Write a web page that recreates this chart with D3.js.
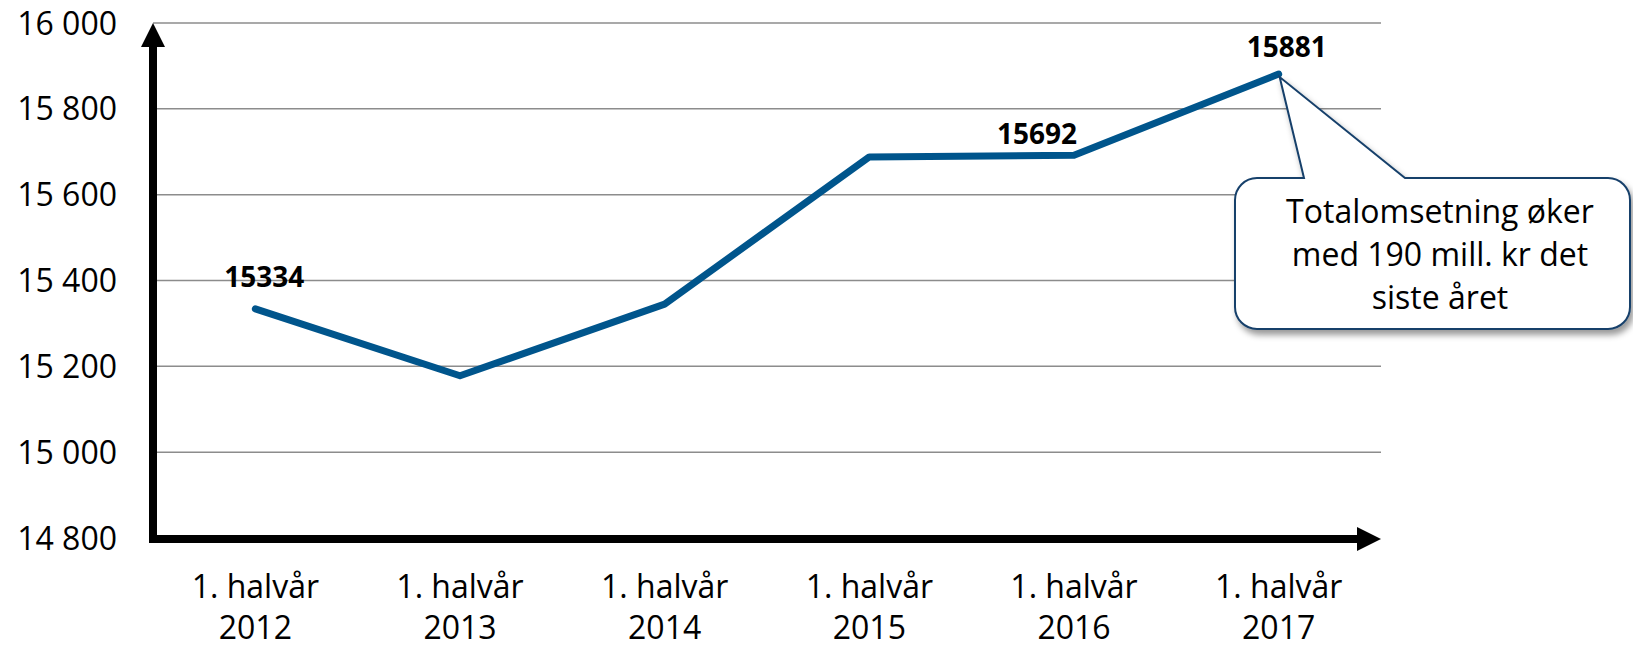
<!DOCTYPE html>
<html>
<head>
<meta charset="utf-8">
<script src="https://cdn.jsdelivr.net/npm/d3@7"></script>
<style>
  body { margin: 0; background: #fff; }
  text { font-family: "Open Sans", sans-serif; fill: #000; }
</style>
</head>
<body>
<div id="chart"></div>
<script>
// data
var categories = ["1. halvår 2012", "1. halvår 2013", "1. halvår 2014", "1. halvår 2015", "1. halvår 2016", "1. halvår 2017"];
var values = [15334, 15178, 15345, 15688, 15692, 15881];
var yTicks = [14800, 15000, 15200, 15400, 15600, 15800, 16000];
var labelled = [0, 4, 5];   // points that carry a value label
var calloutLines = ["Totalomsetning øker", "med 190 mill. kr det", "siste året"];

function init(){
  var w = 1633, h = 648;
  var left = 153, right = 1381, top = 23, bottom = 538;

  var svg = d3.select("#chart")
    .append("svg")
    .attr("width", w)
    .attr("height", h);

  var defs = svg.append("defs");
  var shadow = defs.append("filter").attr("id", "shadow")
    .attr("x", "-10%").attr("y", "-10%").attr("width", "130%").attr("height", "140%");
  shadow.append("feDropShadow")
    .attr("dx", 3).attr("dy", 5).attr("stdDeviation", 3)
    .attr("flood-color", "#000").attr("flood-opacity", 0.4);

  var xScale = d3.scaleBand()
    .domain(categories)
    .range([left, right]);
  var xMid = function(d) { return xScale(d) + xScale.bandwidth() / 2; };

  var yScale = d3.scaleLinear()
    .domain([14800, 16000])
    .range([bottom, top]);

  // gridlines
  svg.append("g")
    .selectAll("line")
    .data(yTicks.slice(1))
    .enter()
    .append("line")
    .attr("x1", left)
    .attr("x2", right)
    .attr("y1", function(d) { return yScale(d); })
    .attr("y2", function(d) { return yScale(d); })
    .attr("stroke", "#8c8c8c")
    .attr("stroke-width", 1.5);

  // y tick labels
  var fmt = function(d) { return d3.format(",")(d).replace(",", " "); };
  svg.append("g")
    .selectAll("text")
    .data(yTicks)
    .enter()
    .append("text")
    .attr("x", 117)
    .attr("y", function(d) { return yScale(d); })
    .attr("dy", "0.36em")
    .attr("text-anchor", "end")
    .style("font-size", "32px")
    .text(fmt);

  // x labels, two lines each
  var xl = svg.append("g")
    .selectAll("text")
    .data(categories)
    .enter()
    .append("text")
    .attr("text-anchor", "middle")
    .style("font-size", "32px");
  xl.append("tspan")
    .attr("x", xMid)
    .attr("y", bottom + 60)
    .text(function(d) { return d.split(" ").slice(0, 2).join(" "); });
  xl.append("tspan")
    .attr("x", xMid)
    .attr("y", bottom + 101)
    .text(function(d) { return d.split(" ")[2]; });

  // axes with arrow heads
  svg.append("line")
    .attr("x1", left).attr("y1", bottom + 4)
    .attr("x2", left).attr("y2", top + 22)
    .attr("stroke", "#000").attr("stroke-width", 8);
  svg.append("path")
    .attr("d", "M" + left + "," + top + "L" + (left - 12) + "," + (top + 24) + "L" + (left + 12) + "," + (top + 24) + "Z")
    .attr("fill", "#000");
  svg.append("line")
    .attr("x1", left - 4).attr("y1", bottom + 1)
    .attr("x2", right - 22).attr("y2", bottom + 1)
    .attr("stroke", "#000").attr("stroke-width", 8);
  svg.append("path")
    .attr("d", "M" + right + "," + (bottom + 1) + "L" + (right - 24) + "," + (bottom - 11) + "L" + (right - 24) + "," + (bottom + 13) + "Z")
    .attr("fill", "#000");

  // the line
  var line = d3.line()
    .x(function(d, i) { return xMid(categories[i]); })
    .y(function(d) { return yScale(d); });
  svg.append("path")
    .datum(values)
    .attr("fill", "none")
    .attr("stroke", "#00558c")
    .attr("stroke-width", 7)
    .attr("stroke-linecap", "round")
    .attr("stroke-linejoin", "round")
    .attr("d", line);

  // value labels
  var offsets = { 0: [9, -22], 4: [-37, -11], 5: [8, -17] };
  svg.append("g")
    .selectAll("text")
    .data(labelled)
    .enter()
    .append("text")
    .attr("x", function(i) { return xMid(categories[i]) + offsets[i][0]; })
    .attr("y", function(i) { return yScale(values[i]) + offsets[i][1]; })
    .attr("text-anchor", "middle")
    .style("font-size", "28px")
    .style("font-weight", "bold")
    .text(function(i) { return values[i]; });

  // callout pointing at the last point
  var tipX = xMid(categories[5]) + 1, tipY = yScale(values[5]) + 3;
  var bx0 = 1235, bx1 = 1630, by0 = 178, by1 = 329, r = 22;
  var p = d3.path();
  p.moveTo(bx0 + r, by0);
  p.lineTo(1304, by0);
  p.lineTo(tipX, tipY);
  p.lineTo(1405, by0);
  p.lineTo(bx1 - r, by0);
  p.arcTo(bx1, by0, bx1, by0 + r, r);
  p.lineTo(bx1, by1 - r);
  p.arcTo(bx1, by1, bx1 - r, by1, r);
  p.lineTo(bx0 + r, by1);
  p.arcTo(bx0, by1, bx0, by1 - r, r);
  p.lineTo(bx0, by0 + r);
  p.arcTo(bx0, by0, bx0 + r, by0, r);
  p.closePath();
  svg.append("path")
    .attr("d", p.toString())
    .attr("fill", "#fff")
    .attr("stroke", "#17406b")
    .attr("stroke-width", 2)
    .attr("stroke-linejoin", "miter")
    .attr("filter", "url(#shadow)");

  svg.append("g")
    .selectAll("text")
    .data(calloutLines)
    .enter()
    .append("text")
    .attr("x", 1440)
    .attr("y", function(d, i) { return 223 + i * 43; })
    .attr("text-anchor", "middle")
    .style("font-size", "32px")
    .text(function(d) { return d; });
}

window.onload = init;
</script>
</body>
</html>
